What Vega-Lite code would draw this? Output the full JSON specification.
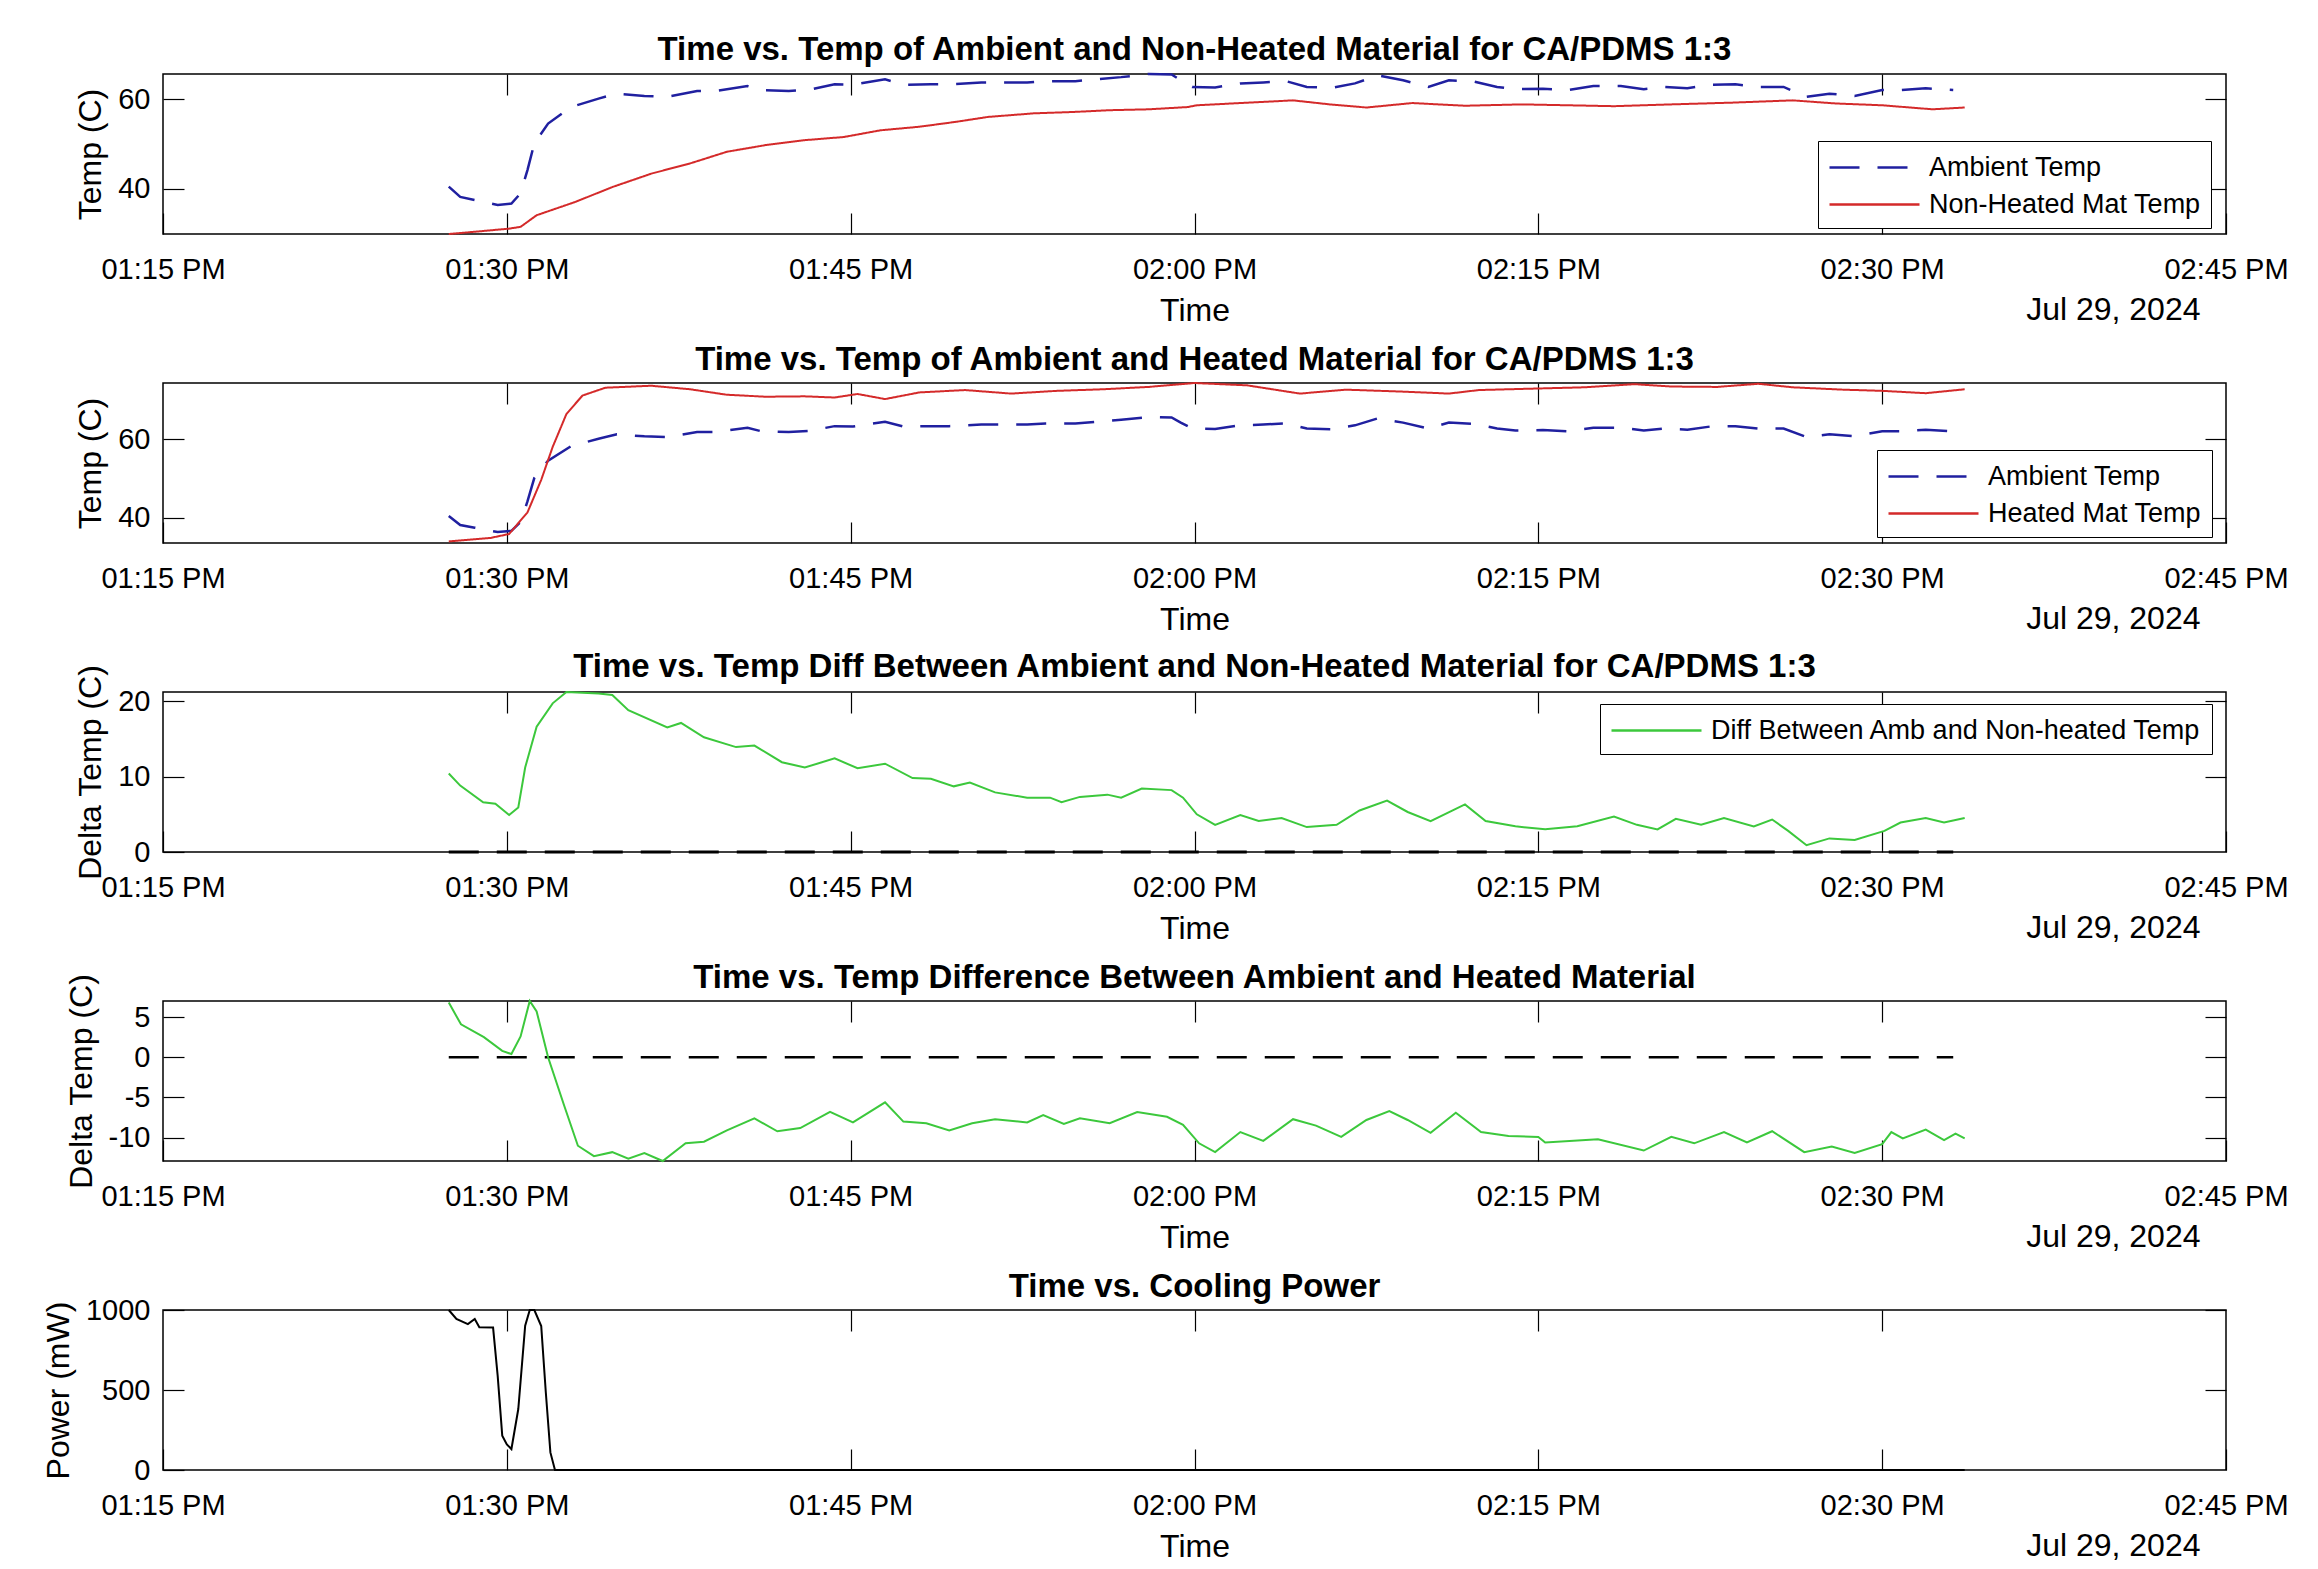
{
"$schema":"https://vega.github.io/schema/vega-lite/v6.json",
"background":"white",
"padding":{"left":41,"top":33,"right":10,"bottom":10},
"spacing":149,
"bounds":"flush",
"config":{
 "view":{"stroke":"black","strokeWidth":1.5},
 "font":"Liberation Sans",
 "title":{"font":"Liberation Sans","fontSize":33,"fontWeight":"bold","color":"black","baseline":"alphabetic","offset":2,"anchor":"middle"},
 "axis":{"domain":false,"grid":false,"tickColor":"black","tickWidth":1.2,"tickSize":-21,"labelFont":"Liberation Sans","labelFontSize":29,"labelColor":"black","titleFont":"Liberation Sans","titleFontSize":32,"titleFontWeight":"normal","titleColor":"black"},
 "axisX":{"labelPadding":42,"titlePadding":11,"labelFlush":false,"labelOverlap":false},
 "axisY":{"labelPadding":34,"titlePadding":10},
 "legend":{"labelFont":"Liberation Sans","labelFontSize":27,"labelColor":"black","labelLimit":2000,"strokeColor":"black","fillColor":"white","padding":10,"rowPadding":7,"symbolType":"M-3,0L3,0","symbolSize":900,"symbolStrokeWidth":2.5,"symbolOffset":30,"labelOffset":38,"cornerRadius":0}
},
"resolve":{"scale":{"color":"independent","strokeDash":"independent"},"legend":{"color":"independent","strokeDash":"independent"}},
"datasets":{
 "amb":[{"t":"2024-07-29T13:27:28","v":40.5},{"t":"2024-07-29T13:27:58","v":38.2},{"t":"2024-07-29T13:28:36","v":37.5},{"t":"2024-07-29T13:29:36","v":36.4},{"t":"2024-07-29T13:30:12","v":36.7},{"t":"2024-07-29T13:30:36","v":39.0},{"t":"2024-07-29T13:30:54","v":44.2},{"t":"2024-07-29T13:31:12","v":50.2},{"t":"2024-07-29T13:31:48","v":54.6},{"t":"2024-07-29T13:32:48","v":58.3},{"t":"2024-07-29T13:34:00","v":60.2},{"t":"2024-07-29T13:34:48","v":61.3},{"t":"2024-07-29T13:36:00","v":60.8},{"t":"2024-07-29T13:37:00","v":60.6},{"t":"2024-07-29T13:38:18","v":61.9},{"t":"2024-07-29T13:39:06","v":61.9},{"t":"2024-07-29T13:40:30","v":63.0},{"t":"2024-07-29T13:41:06","v":62.1},{"t":"2024-07-29T13:42:18","v":61.9},{"t":"2024-07-29T13:43:12","v":62.2},{"t":"2024-07-29T13:44:18","v":63.4},{"t":"2024-07-29T13:45:06","v":63.3},{"t":"2024-07-29T13:46:30","v":64.5},{"t":"2024-07-29T13:47:18","v":63.3},{"t":"2024-07-29T13:48:30","v":63.4},{"t":"2024-07-29T13:49:18","v":63.4},{"t":"2024-07-29T13:50:42","v":63.8},{"t":"2024-07-29T13:51:18","v":63.8},{"t":"2024-07-29T13:52:42","v":63.8},{"t":"2024-07-29T13:53:30","v":64.1},{"t":"2024-07-29T13:54:48","v":64.1},{"t":"2024-07-29T13:55:42","v":64.5},{"t":"2024-07-29T13:56:48","v":65.0},{"t":"2024-07-29T13:58:00","v":65.7},{"t":"2024-07-29T13:59:00","v":65.6},{"t":"2024-07-29T13:59:24","v":64.3},{"t":"2024-07-29T13:59:54","v":62.8},{"t":"2024-07-29T14:00:54","v":62.7},{"t":"2024-07-29T14:02:00","v":63.6},{"t":"2024-07-29T14:03:00","v":63.8},{"t":"2024-07-29T14:04:00","v":64.1},{"t":"2024-07-29T14:04:54","v":62.8},{"t":"2024-07-29T14:06:00","v":62.6},{"t":"2024-07-29T14:07:00","v":63.6},{"t":"2024-07-29T14:08:00","v":65.4},{"t":"2024-07-29T14:09:06","v":64.3},{"t":"2024-07-29T14:10:12","v":62.8},{"t":"2024-07-29T14:11:06","v":64.3},{"t":"2024-07-29T14:12:12","v":64.0},{"t":"2024-07-29T14:13:12","v":62.8},{"t":"2024-07-29T14:14:00","v":62.3},{"t":"2024-07-29T14:15:12","v":62.4},{"t":"2024-07-29T14:16:18","v":62.1},{"t":"2024-07-29T14:17:24","v":63.0},{"t":"2024-07-29T14:18:36","v":63.0},{"t":"2024-07-29T14:19:36","v":62.3},{"t":"2024-07-29T14:20:30","v":62.8},{"t":"2024-07-29T14:21:30","v":62.5},{"t":"2024-07-29T14:22:30","v":63.3},{"t":"2024-07-29T14:23:36","v":63.4},{"t":"2024-07-29T14:24:36","v":62.8},{"t":"2024-07-29T14:25:42","v":62.8},{"t":"2024-07-29T14:26:42","v":60.6},{"t":"2024-07-29T14:27:42","v":61.3},{"t":"2024-07-29T14:28:48","v":60.8},{"t":"2024-07-29T14:30:00","v":62.1},{"t":"2024-07-29T14:30:48","v":62.1},{"t":"2024-07-29T14:31:54","v":62.5},{"t":"2024-07-29T14:33:06","v":62.1}],
 "nonheat":[{"t":"2024-07-29T13:27:28","v":29.9},{"t":"2024-07-29T13:28:36","v":30.4},{"t":"2024-07-29T13:30:06","v":31.1},{"t":"2024-07-29T13:30:36","v":31.5},{"t":"2024-07-29T13:31:18","v":34.1},{"t":"2024-07-29T13:33:00","v":37.1},{"t":"2024-07-29T13:34:36","v":40.4},{"t":"2024-07-29T13:36:18","v":43.4},{"t":"2024-07-29T13:38:00","v":45.7},{"t":"2024-07-29T13:39:36","v":48.3},{"t":"2024-07-29T13:41:18","v":49.8},{"t":"2024-07-29T13:43:00","v":50.9},{"t":"2024-07-29T13:44:42","v":51.6},{"t":"2024-07-29T13:46:18","v":53.1},{"t":"2024-07-29T13:48:00","v":53.9},{"t":"2024-07-29T13:49:36","v":55.0},{"t":"2024-07-29T13:51:00","v":56.1},{"t":"2024-07-29T13:53:00","v":56.9},{"t":"2024-07-29T13:54:42","v":57.2},{"t":"2024-07-29T13:56:18","v":57.6},{"t":"2024-07-29T13:58:00","v":57.8},{"t":"2024-07-29T13:59:42","v":58.3},{"t":"2024-07-29T14:00:06","v":58.7},{"t":"2024-07-29T14:02:00","v":59.2},{"t":"2024-07-29T14:04:18","v":59.8},{"t":"2024-07-29T14:05:54","v":58.9},{"t":"2024-07-29T14:07:30","v":58.2},{"t":"2024-07-29T14:09:30","v":59.2},{"t":"2024-07-29T14:11:48","v":58.6},{"t":"2024-07-29T14:14:18","v":58.9},{"t":"2024-07-29T14:16:18","v":58.7},{"t":"2024-07-29T14:18:18","v":58.5},{"t":"2024-07-29T14:20:48","v":58.9},{"t":"2024-07-29T14:23:30","v":59.3},{"t":"2024-07-29T14:26:06","v":59.8},{"t":"2024-07-29T14:28:00","v":59.1},{"t":"2024-07-29T14:30:00","v":58.7},{"t":"2024-07-29T14:32:12","v":57.8},{"t":"2024-07-29T14:33:36","v":58.2}],
 "heat":[{"t":"2024-07-29T13:27:28","v":34.0},{"t":"2024-07-29T13:29:18","v":34.9},{"t":"2024-07-29T13:30:06","v":35.9},{"t":"2024-07-29T13:30:54","v":41.4},{"t":"2024-07-29T13:31:30","v":49.7},{"t":"2024-07-29T13:32:00","v":58.1},{"t":"2024-07-29T13:32:36","v":66.5},{"t":"2024-07-29T13:33:18","v":71.2},{"t":"2024-07-29T13:34:18","v":73.2},{"t":"2024-07-29T13:36:18","v":73.7},{"t":"2024-07-29T13:38:00","v":72.8},{"t":"2024-07-29T13:39:36","v":71.4},{"t":"2024-07-29T13:41:18","v":70.9},{"t":"2024-07-29T13:43:00","v":71.0},{"t":"2024-07-29T13:44:18","v":70.7},{"t":"2024-07-29T13:45:18","v":71.6},{"t":"2024-07-29T13:46:30","v":70.3},{"t":"2024-07-29T13:48:00","v":72.0},{"t":"2024-07-29T13:50:00","v":72.6},{"t":"2024-07-29T13:52:00","v":71.7},{"t":"2024-07-29T13:54:00","v":72.4},{"t":"2024-07-29T13:56:00","v":72.8},{"t":"2024-07-29T13:58:00","v":73.4},{"t":"2024-07-29T14:00:00","v":74.4},{"t":"2024-07-29T14:02:18","v":73.8},{"t":"2024-07-29T14:04:36","v":71.7},{"t":"2024-07-29T14:06:36","v":72.7},{"t":"2024-07-29T14:09:06","v":72.2},{"t":"2024-07-29T14:11:06","v":71.7},{"t":"2024-07-29T14:12:24","v":72.6},{"t":"2024-07-29T14:15:00","v":73.0},{"t":"2024-07-29T14:17:00","v":73.3},{"t":"2024-07-29T14:19:12","v":74.1},{"t":"2024-07-29T14:20:48","v":73.5},{"t":"2024-07-29T14:22:48","v":73.4},{"t":"2024-07-29T14:24:36","v":74.2},{"t":"2024-07-29T14:26:06","v":73.3},{"t":"2024-07-29T14:28:18","v":72.7},{"t":"2024-07-29T14:30:00","v":72.4},{"t":"2024-07-29T14:31:54","v":71.8},{"t":"2024-07-29T14:33:36","v":72.8}],
 "diffn":[{"t":"2024-07-29T13:27:28","v":10.4},{"t":"2024-07-29T13:27:58","v":8.8},{"t":"2024-07-29T13:28:58","v":6.6},{"t":"2024-07-29T13:29:30","v":6.4},{"t":"2024-07-29T13:30:06","v":4.9},{"t":"2024-07-29T13:30:30","v":5.9},{"t":"2024-07-29T13:30:48","v":11.2},{"t":"2024-07-29T13:31:18","v":16.6},{"t":"2024-07-29T13:32:00","v":19.7},{"t":"2024-07-29T13:32:36","v":21.2},{"t":"2024-07-29T13:34:00","v":21.0},{"t":"2024-07-29T13:34:36","v":20.8},{"t":"2024-07-29T13:35:18","v":18.8},{"t":"2024-07-29T13:37:00","v":16.5},{"t":"2024-07-29T13:37:36","v":17.1},{"t":"2024-07-29T13:38:36","v":15.2},{"t":"2024-07-29T13:40:00","v":13.9},{"t":"2024-07-29T13:40:48","v":14.1},{"t":"2024-07-29T13:42:00","v":11.9},{"t":"2024-07-29T13:43:00","v":11.2},{"t":"2024-07-29T13:44:18","v":12.4},{"t":"2024-07-29T13:45:18","v":11.1},{"t":"2024-07-29T13:46:30","v":11.7},{"t":"2024-07-29T13:47:42","v":9.8},{"t":"2024-07-29T13:48:30","v":9.7},{"t":"2024-07-29T13:49:30","v":8.7},{"t":"2024-07-29T13:50:12","v":9.2},{"t":"2024-07-29T13:51:18","v":7.9},{"t":"2024-07-29T13:52:42","v":7.2},{"t":"2024-07-29T13:53:42","v":7.2},{"t":"2024-07-29T13:54:12","v":6.6},{"t":"2024-07-29T13:55:00","v":7.3},{"t":"2024-07-29T13:56:12","v":7.6},{"t":"2024-07-29T13:56:48","v":7.2},{"t":"2024-07-29T13:57:42","v":8.4},{"t":"2024-07-29T13:59:00","v":8.2},{"t":"2024-07-29T13:59:30","v":7.2},{"t":"2024-07-29T14:00:06","v":5.0},{"t":"2024-07-29T14:00:54","v":3.6},{"t":"2024-07-29T14:02:00","v":4.9},{"t":"2024-07-29T14:02:48","v":4.1},{"t":"2024-07-29T14:03:48","v":4.5},{"t":"2024-07-29T14:04:54","v":3.3},{"t":"2024-07-29T14:06:12","v":3.6},{"t":"2024-07-29T14:07:12","v":5.5},{"t":"2024-07-29T14:08:24","v":6.8},{"t":"2024-07-29T14:09:18","v":5.3},{"t":"2024-07-29T14:10:18","v":4.1},{"t":"2024-07-29T14:11:48","v":6.3},{"t":"2024-07-29T14:12:42","v":4.1},{"t":"2024-07-29T14:14:00","v":3.4},{"t":"2024-07-29T14:15:18","v":3.0},{"t":"2024-07-29T14:16:42","v":3.4},{"t":"2024-07-29T14:18:18","v":4.7},{"t":"2024-07-29T14:19:18","v":3.6},{"t":"2024-07-29T14:20:12","v":3.0},{"t":"2024-07-29T14:21:00","v":4.4},{"t":"2024-07-29T14:22:06","v":3.6},{"t":"2024-07-29T14:23:06","v":4.5},{"t":"2024-07-29T14:24:24","v":3.4},{"t":"2024-07-29T14:25:12","v":4.3},{"t":"2024-07-29T14:25:54","v":2.8},{"t":"2024-07-29T14:26:42","v":0.9},{"t":"2024-07-29T14:27:42","v":1.8},{"t":"2024-07-29T14:28:48","v":1.6},{"t":"2024-07-29T14:30:06","v":2.8},{"t":"2024-07-29T14:30:48","v":3.9},{"t":"2024-07-29T14:31:54","v":4.5},{"t":"2024-07-29T14:32:42","v":3.9},{"t":"2024-07-29T14:33:36","v":4.5}],
 "diffh":[{"t":"2024-07-29T13:27:28","v":6.8},{"t":"2024-07-29T13:28:00","v":4.1},{"t":"2024-07-29T13:29:00","v":2.5},{"t":"2024-07-29T13:29:48","v":0.8},{"t":"2024-07-29T13:30:12","v":0.4},{"t":"2024-07-29T13:30:36","v":2.6},{"t":"2024-07-29T13:31:00","v":7.0},{"t":"2024-07-29T13:31:18","v":5.7},{"t":"2024-07-29T13:31:48","v":0.0},{"t":"2024-07-29T13:32:30","v":-6.0},{"t":"2024-07-29T13:33:06","v":-11.0},{"t":"2024-07-29T13:33:48","v":-12.3},{"t":"2024-07-29T13:34:36","v":-11.8},{"t":"2024-07-29T13:35:18","v":-12.6},{"t":"2024-07-29T13:36:00","v":-11.9},{"t":"2024-07-29T13:36:48","v":-12.9},{"t":"2024-07-29T13:37:48","v":-10.7},{"t":"2024-07-29T13:38:36","v":-10.5},{"t":"2024-07-29T13:39:36","v":-9.1},{"t":"2024-07-29T13:40:48","v":-7.6},{"t":"2024-07-29T13:41:48","v":-9.2},{"t":"2024-07-29T13:42:48","v":-8.8},{"t":"2024-07-29T13:44:06","v":-6.8},{"t":"2024-07-29T13:45:06","v":-8.1},{"t":"2024-07-29T13:46:30","v":-5.6},{"t":"2024-07-29T13:47:18","v":-8.0},{"t":"2024-07-29T13:48:18","v":-8.2},{"t":"2024-07-29T13:49:18","v":-9.1},{"t":"2024-07-29T13:50:18","v":-8.2},{"t":"2024-07-29T13:51:18","v":-7.7},{"t":"2024-07-29T13:52:42","v":-8.1},{"t":"2024-07-29T13:53:24","v":-7.2},{"t":"2024-07-29T13:54:18","v":-8.3},{"t":"2024-07-29T13:55:00","v":-7.6},{"t":"2024-07-29T13:56:18","v":-8.2},{"t":"2024-07-29T13:57:30","v":-6.8},{"t":"2024-07-29T13:58:48","v":-7.4},{"t":"2024-07-29T13:59:30","v":-8.4},{"t":"2024-07-29T14:00:12","v":-10.7},{"t":"2024-07-29T14:00:54","v":-11.8},{"t":"2024-07-29T14:02:00","v":-9.3},{"t":"2024-07-29T14:03:00","v":-10.4},{"t":"2024-07-29T14:04:18","v":-7.7},{"t":"2024-07-29T14:05:18","v":-8.5},{"t":"2024-07-29T14:06:24","v":-9.9},{"t":"2024-07-29T14:07:30","v":-7.8},{"t":"2024-07-29T14:08:30","v":-6.7},{"t":"2024-07-29T14:09:18","v":-7.8},{"t":"2024-07-29T14:10:18","v":-9.4},{"t":"2024-07-29T14:11:24","v":-6.9},{"t":"2024-07-29T14:12:30","v":-9.3},{"t":"2024-07-29T14:13:42","v":-9.8},{"t":"2024-07-29T14:15:00","v":-9.9},{"t":"2024-07-29T14:15:18","v":-10.6},{"t":"2024-07-29T14:17:36","v":-10.2},{"t":"2024-07-29T14:19:36","v":-11.6},{"t":"2024-07-29T14:20:48","v":-9.9},{"t":"2024-07-29T14:21:48","v":-10.7},{"t":"2024-07-29T14:23:06","v":-9.3},{"t":"2024-07-29T14:24:06","v":-10.6},{"t":"2024-07-29T14:25:12","v":-9.2},{"t":"2024-07-29T14:26:36","v":-11.8},{"t":"2024-07-29T14:27:48","v":-11.1},{"t":"2024-07-29T14:28:48","v":-11.9},{"t":"2024-07-29T14:30:00","v":-10.8},{"t":"2024-07-29T14:30:24","v":-9.3},{"t":"2024-07-29T14:30:54","v":-10.1},{"t":"2024-07-29T14:31:54","v":-9.0},{"t":"2024-07-29T14:32:42","v":-10.3},{"t":"2024-07-29T14:33:12","v":-9.5},{"t":"2024-07-29T14:33:36","v":-10.1}],
 "power":[{"t":"2024-07-29T13:27:28","v":1000},{"t":"2024-07-29T13:27:48","v":944},{"t":"2024-07-29T13:28:18","v":912},{"t":"2024-07-29T13:28:36","v":944},{"t":"2024-07-29T13:28:48","v":892},{"t":"2024-07-29T13:29:24","v":890},{"t":"2024-07-29T13:29:36","v":590},{"t":"2024-07-29T13:29:48","v":215},{"t":"2024-07-29T13:30:00","v":160},{"t":"2024-07-29T13:30:12","v":131},{"t":"2024-07-29T13:30:30","v":381},{"t":"2024-07-29T13:30:48","v":902},{"t":"2024-07-29T13:31:00","v":1000},{"t":"2024-07-29T13:31:12","v":1000},{"t":"2024-07-29T13:31:30","v":900},{"t":"2024-07-29T13:31:42","v":486},{"t":"2024-07-29T13:31:54","v":110},{"t":"2024-07-29T13:32:06","v":0},{"t":"2024-07-29T14:33:36","v":0}],
 "zero":[{"t":"2024-07-29T13:27:28","v":0},{"t":"2024-07-29T14:33:06","v":0}]
},
"vconcat":[
 {
  "width":2063,"height":160,
  "title":"Time vs. Temp of Ambient and Non-Heated Material for CA/PDMS 1:3",
  "resolve":{"axis":{"x":"independent","y":"independent"}},
  "layer":[
   {"data":{"name":"amb"},"mark":{"type":"line","strokeWidth":2.5},
    "encoding":{
     "x":{"field":"t","type":"temporal","scale":{"domain":[{"year":2024,"month":7,"date":29,"hours":13,"minutes":15},{"year":2024,"month":7,"date":29,"hours":14,"minutes":45}]},"axis":{"orient":"bottom","title":"Time","format":"%I:%M %p","values":[{"year":2024,"month":7,"date":29,"hours":13,"minutes":15},{"year":2024,"month":7,"date":29,"hours":13,"minutes":30},{"year":2024,"month":7,"date":29,"hours":13,"minutes":45},{"year":2024,"month":7,"date":29,"hours":14,"minutes":0},{"year":2024,"month":7,"date":29,"hours":14,"minutes":15},{"year":2024,"month":7,"date":29,"hours":14,"minutes":30},{"year":2024,"month":7,"date":29,"hours":14,"minutes":45}]}},
     "y":{"field":"v","type":"quantitative","scale":{"domain":[29.9,65.7],"nice":false,"zero":false},"axis":{"title":"Temp (C)","values":[40,60],"labelExpr":"'' + datum.value"}},
     "color":{"datum":"Ambient Temp","scale":{"domain":["Ambient Temp","Non-Heated Mat Temp"],"range":["#2020a0","#d42a2a"]},"legend":{"title":null,"orient":"none","legendX":1655,"legendY":67}},
     "strokeDash":{"datum":"Ambient Temp","scale":{"domain":["Ambient Temp","Non-Heated Mat Temp"],"range":[[30,18],[1,0]]},"legend":{"title":null,"orient":"none","legendX":1655,"legendY":67}}
    }},
   {"data":{"name":"nonheat"},"mark":{"type":"line","strokeWidth":2},
    "encoding":{
     "x":{"field":"t","type":"temporal","scale":{"domain":[{"year":2024,"month":7,"date":29,"hours":13,"minutes":15},{"year":2024,"month":7,"date":29,"hours":14,"minutes":45}]},"axis":null},
     "y":{"field":"v","type":"quantitative","scale":{"domain":[29.9,65.7],"nice":false,"zero":false},"axis":null},
     "color":{"datum":"Non-Heated Mat Temp"},
     "strokeDash":{"datum":"Non-Heated Mat Temp"}
    }},
   {"data":{"name":"amb"},"mark":{"type":"line","opacity":0},
    "encoding":{
     "x":{"field":"t","type":"temporal","scale":{"domain":[{"year":2024,"month":7,"date":29,"hours":13,"minutes":15},{"year":2024,"month":7,"date":29,"hours":14,"minutes":45}]},"axis":{"orient":"top","labels":false,"title":"Jul 29, 2024","titleX":2037,"titleY":245,"titleAlign":"right","titleBaseline":"alphabetic","titleAngle":0,"values":[{"year":2024,"month":7,"date":29,"hours":13,"minutes":30},{"year":2024,"month":7,"date":29,"hours":13,"minutes":45},{"year":2024,"month":7,"date":29,"hours":14,"minutes":0},{"year":2024,"month":7,"date":29,"hours":14,"minutes":15},{"year":2024,"month":7,"date":29,"hours":14,"minutes":30}]}},
     "y":{"field":"v","type":"quantitative","scale":{"domain":[29.9,65.7],"nice":false,"zero":false},"axis":{"orient":"right","labels":false,"title":null,"values":[40,60]}}
    }}
  ]
 },
 {
  "width":2063,"height":160,
  "title":"Time vs. Temp of Ambient and Heated Material for CA/PDMS 1:3",
  "resolve":{"axis":{"x":"independent","y":"independent"}},
  "layer":[
   {"data":{"name":"amb"},"mark":{"type":"line","strokeWidth":2.5},
    "encoding":{
     "x":{"field":"t","type":"temporal","scale":{"domain":[{"year":2024,"month":7,"date":29,"hours":13,"minutes":15},{"year":2024,"month":7,"date":29,"hours":14,"minutes":45}]},"axis":{"orient":"bottom","title":"Time","format":"%I:%M %p","values":[{"year":2024,"month":7,"date":29,"hours":13,"minutes":15},{"year":2024,"month":7,"date":29,"hours":13,"minutes":30},{"year":2024,"month":7,"date":29,"hours":13,"minutes":45},{"year":2024,"month":7,"date":29,"hours":14,"minutes":0},{"year":2024,"month":7,"date":29,"hours":14,"minutes":15},{"year":2024,"month":7,"date":29,"hours":14,"minutes":30},{"year":2024,"month":7,"date":29,"hours":14,"minutes":45}]}},
     "y":{"field":"v","type":"quantitative","scale":{"domain":[33.6,74.4],"nice":false,"zero":false},"axis":{"title":"Temp (C)","values":[40,60],"labelExpr":"'' + datum.value"}},
     "color":{"datum":"Ambient Temp","scale":{"domain":["Ambient Temp","Heated Mat Temp"],"range":["#2020a0","#d42a2a"]},"legend":{"title":null,"orient":"none","legendX":1714,"legendY":67}},
     "strokeDash":{"datum":"Ambient Temp","scale":{"domain":["Ambient Temp","Heated Mat Temp"],"range":[[30,18],[1,0]]},"legend":{"title":null,"orient":"none","legendX":1714,"legendY":67}}
    }},
   {"data":{"name":"heat"},"mark":{"type":"line","strokeWidth":2},
    "encoding":{
     "x":{"field":"t","type":"temporal","scale":{"domain":[{"year":2024,"month":7,"date":29,"hours":13,"minutes":15},{"year":2024,"month":7,"date":29,"hours":14,"minutes":45}]},"axis":null},
     "y":{"field":"v","type":"quantitative","scale":{"domain":[33.6,74.4],"nice":false,"zero":false},"axis":null},
     "color":{"datum":"Heated Mat Temp"},
     "strokeDash":{"datum":"Heated Mat Temp"}
    }},
   {"data":{"name":"heat"},"mark":{"type":"line","opacity":0},
    "encoding":{
     "x":{"field":"t","type":"temporal","scale":{"domain":[{"year":2024,"month":7,"date":29,"hours":13,"minutes":15},{"year":2024,"month":7,"date":29,"hours":14,"minutes":45}]},"axis":{"orient":"top","labels":false,"title":"Jul 29, 2024","titleX":2037,"titleY":245,"titleAlign":"right","titleBaseline":"alphabetic","titleAngle":0,"values":[{"year":2024,"month":7,"date":29,"hours":13,"minutes":30},{"year":2024,"month":7,"date":29,"hours":13,"minutes":45},{"year":2024,"month":7,"date":29,"hours":14,"minutes":0},{"year":2024,"month":7,"date":29,"hours":14,"minutes":15},{"year":2024,"month":7,"date":29,"hours":14,"minutes":30}]}},
     "y":{"field":"v","type":"quantitative","scale":{"domain":[33.6,74.4],"nice":false,"zero":false},"axis":{"orient":"right","labels":false,"title":null,"values":[40,60]}}
    }}
  ]
 },
 {
  "width":2063,"height":160,
  "title":{"text":"Time vs. Temp Diff Between Ambient and Non-Heated Material for CA/PDMS 1:3","offset":-20},
  "resolve":{"axis":{"x":"independent","y":"independent"}},
  "layer":[
   {"data":{"name":"diffn"},"mark":{"type":"line","strokeWidth":2},
    "encoding":{
     "x":{"field":"t","type":"temporal","scale":{"domain":[{"year":2024,"month":7,"date":29,"hours":13,"minutes":15},{"year":2024,"month":7,"date":29,"hours":14,"minutes":45}]},"axis":{"orient":"bottom","title":"Time","format":"%I:%M %p","values":[{"year":2024,"month":7,"date":29,"hours":13,"minutes":15},{"year":2024,"month":7,"date":29,"hours":13,"minutes":30},{"year":2024,"month":7,"date":29,"hours":13,"minutes":45},{"year":2024,"month":7,"date":29,"hours":14,"minutes":0},{"year":2024,"month":7,"date":29,"hours":14,"minutes":15},{"year":2024,"month":7,"date":29,"hours":14,"minutes":30},{"year":2024,"month":7,"date":29,"hours":14,"minutes":45}]}},
     "y":{"field":"v","type":"quantitative","scale":{"domain":[0,21.2],"nice":false,"zero":false},"axis":{"title":"Delta Temp (C)","values":[0,10,20],"labelExpr":"'' + datum.value"}},
     "color":{"datum":"Diff Between Amb and Non-heated Temp","scale":{"domain":["Diff Between Amb and Non-heated Temp"],"range":["#3cc83c"]},"legend":{"title":null,"orient":"none","legendX":1437,"legendY":12}}
    }},
   {"data":{"name":"zero"},"mark":{"type":"line","color":"black","strokeWidth":3,"strokeDash":[30,18],"clip":false},
    "encoding":{
     "x":{"field":"t","type":"temporal","scale":{"domain":[{"year":2024,"month":7,"date":29,"hours":13,"minutes":15},{"year":2024,"month":7,"date":29,"hours":14,"minutes":45}]},"axis":null},
     "y":{"field":"v","type":"quantitative","scale":{"domain":[0,21.2],"nice":false,"zero":false},"axis":null}
    }},
   {"data":{"name":"diffn"},"mark":{"type":"line","opacity":0},
    "encoding":{
     "x":{"field":"t","type":"temporal","scale":{"domain":[{"year":2024,"month":7,"date":29,"hours":13,"minutes":15},{"year":2024,"month":7,"date":29,"hours":14,"minutes":45}]},"axis":{"orient":"top","labels":false,"title":"Jul 29, 2024","titleX":2037,"titleY":245,"titleAlign":"right","titleBaseline":"alphabetic","titleAngle":0,"values":[{"year":2024,"month":7,"date":29,"hours":13,"minutes":30},{"year":2024,"month":7,"date":29,"hours":13,"minutes":45},{"year":2024,"month":7,"date":29,"hours":14,"minutes":0},{"year":2024,"month":7,"date":29,"hours":14,"minutes":15},{"year":2024,"month":7,"date":29,"hours":14,"minutes":30}]}},
     "y":{"field":"v","type":"quantitative","scale":{"domain":[0,21.2],"nice":false,"zero":false},"axis":{"orient":"right","labels":false,"title":null,"values":[10,20]}}
    }}
  ]
 },
 {
  "width":2063,"height":160,
  "title":{"text":"Time vs. Temp Difference Between Ambient and Heated Material","offset":-22},
  "resolve":{"axis":{"x":"independent","y":"independent"}},
  "layer":[
   {"data":{"name":"zero"},"mark":{"type":"line","color":"black","strokeWidth":2.5,"strokeDash":[30,18]},
    "encoding":{
     "x":{"field":"t","type":"temporal","scale":{"domain":[{"year":2024,"month":7,"date":29,"hours":13,"minutes":15},{"year":2024,"month":7,"date":29,"hours":14,"minutes":45}]},"axis":{"orient":"bottom","title":"Time","format":"%I:%M %p","values":[{"year":2024,"month":7,"date":29,"hours":13,"minutes":15},{"year":2024,"month":7,"date":29,"hours":13,"minutes":30},{"year":2024,"month":7,"date":29,"hours":13,"minutes":45},{"year":2024,"month":7,"date":29,"hours":14,"minutes":0},{"year":2024,"month":7,"date":29,"hours":14,"minutes":15},{"year":2024,"month":7,"date":29,"hours":14,"minutes":30},{"year":2024,"month":7,"date":29,"hours":14,"minutes":45}]}},
     "y":{"field":"v","type":"quantitative","scale":{"domain":[-12.9,7.0],"nice":false,"zero":false},"axis":{"title":"Delta Temp (C)","values":[-10,-5,0,5],"labelExpr":"'' + datum.value"}}
    }},
   {"data":{"name":"diffh"},"mark":{"type":"line","color":"#3cc83c","strokeWidth":2},
    "encoding":{
     "x":{"field":"t","type":"temporal","scale":{"domain":[{"year":2024,"month":7,"date":29,"hours":13,"minutes":15},{"year":2024,"month":7,"date":29,"hours":14,"minutes":45}]},"axis":null},
     "y":{"field":"v","type":"quantitative","scale":{"domain":[-12.9,7.0],"nice":false,"zero":false},"axis":null}
    }},
   {"data":{"name":"diffh"},"mark":{"type":"line","opacity":0},
    "encoding":{
     "x":{"field":"t","type":"temporal","scale":{"domain":[{"year":2024,"month":7,"date":29,"hours":13,"minutes":15},{"year":2024,"month":7,"date":29,"hours":14,"minutes":45}]},"axis":{"orient":"top","labels":false,"title":"Jul 29, 2024","titleX":2037,"titleY":245,"titleAlign":"right","titleBaseline":"alphabetic","titleAngle":0,"values":[{"year":2024,"month":7,"date":29,"hours":13,"minutes":30},{"year":2024,"month":7,"date":29,"hours":13,"minutes":45},{"year":2024,"month":7,"date":29,"hours":14,"minutes":0},{"year":2024,"month":7,"date":29,"hours":14,"minutes":15},{"year":2024,"month":7,"date":29,"hours":14,"minutes":30}]}},
     "y":{"field":"v","type":"quantitative","scale":{"domain":[-12.9,7.0],"nice":false,"zero":false},"axis":{"orient":"right","labels":false,"title":null,"values":[-10,-5,0,5]}}
    }}
  ]
 },
 {
  "width":2063,"height":160,
  "title":{"text":"Time vs. Cooling Power","offset":-8},
  "resolve":{"axis":{"x":"independent","y":"independent"}},
  "layer":[
   {"data":{"name":"power"},"mark":{"type":"line","color":"black","strokeWidth":2},
    "encoding":{
     "x":{"field":"t","type":"temporal","scale":{"domain":[{"year":2024,"month":7,"date":29,"hours":13,"minutes":15},{"year":2024,"month":7,"date":29,"hours":14,"minutes":45}]},"axis":{"orient":"bottom","title":"Time","format":"%I:%M %p","values":[{"year":2024,"month":7,"date":29,"hours":13,"minutes":15},{"year":2024,"month":7,"date":29,"hours":13,"minutes":30},{"year":2024,"month":7,"date":29,"hours":13,"minutes":45},{"year":2024,"month":7,"date":29,"hours":14,"minutes":0},{"year":2024,"month":7,"date":29,"hours":14,"minutes":15},{"year":2024,"month":7,"date":29,"hours":14,"minutes":30},{"year":2024,"month":7,"date":29,"hours":14,"minutes":45}]}},
     "y":{"field":"v","type":"quantitative","scale":{"domain":[0,1000],"nice":false,"zero":false},"axis":{"title":"Power (mW)","values":[0,500,1000],"labelExpr":"'' + datum.value"}}
    }},
   {"data":{"name":"power"},"mark":{"type":"line","opacity":0},
    "encoding":{
     "x":{"field":"t","type":"temporal","scale":{"domain":[{"year":2024,"month":7,"date":29,"hours":13,"minutes":15},{"year":2024,"month":7,"date":29,"hours":14,"minutes":45}]},"axis":{"orient":"top","labels":false,"title":"Jul 29, 2024","titleX":2037,"titleY":245,"titleAlign":"right","titleBaseline":"alphabetic","titleAngle":0,"values":[{"year":2024,"month":7,"date":29,"hours":13,"minutes":30},{"year":2024,"month":7,"date":29,"hours":13,"minutes":45},{"year":2024,"month":7,"date":29,"hours":14,"minutes":0},{"year":2024,"month":7,"date":29,"hours":14,"minutes":15},{"year":2024,"month":7,"date":29,"hours":14,"minutes":30}]}},
     "y":{"field":"v","type":"quantitative","scale":{"domain":[0,1000],"nice":false,"zero":false},"axis":{"orient":"right","labels":false,"title":null,"values":[500,1000]}}
    }}
  ]
 }
]
}
